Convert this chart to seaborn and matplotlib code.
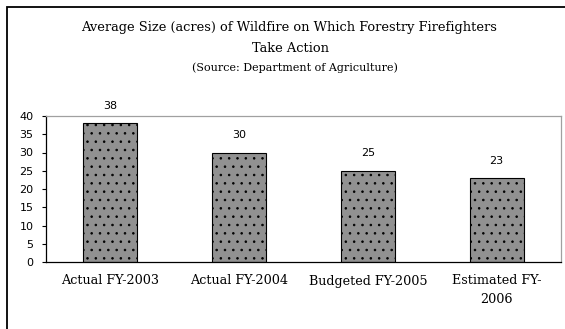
import matplotlib
matplotlib.use("Agg")
import matplotlib.pyplot as plt
import seaborn as sns
import pandas as pd
from matplotlib.patches import Rectangle

# Chart data
categories = ["Actual FY-2003", "Actual FY-2004", "Budgeted FY-2005", "Estimated FY-\n2006"]
avg_acres = [38, 30, 25, 23]
y_ticks = [0, 5, 10, 15, 20, 25, 30, 35, 40]

df = pd.DataFrame({"category": categories, "acres": avg_acres})

sns.set_style("white")
plt.rcParams["hatch.linewidth"] = 0.6
plt.rcParams["text.color"] = "black"
plt.rcParams["xtick.labelcolor"] = "black"
plt.rcParams["ytick.labelcolor"] = "black"

fig = plt.figure(figsize=(5.65, 3.29), dpi=100)
ax = fig.add_axes([46 / 565, 1 - 262 / 329, 515 / 565, 146 / 329])

sns.barplot(data=df, x="category", y="acres", ax=ax, color="#919191",
            width=0.42, saturation=1)

for bar in ax.patches:
    bar.set_hatch("..")
    bar.set_edgecolor("black")
    bar.set_linewidth(0.8)

# value labels
for bar, v in zip(ax.patches, avg_acres):
    ax.annotate(f"{v}", (bar.get_x() + bar.get_width() / 2, bar.get_height()),
                xytext=(0, 9), textcoords="offset points", ha="center", va="bottom",
                fontsize=8, family="DejaVu Sans", color="black")

ax.set_xlim(-0.5, len(categories) - 0.5)
ax.set_ylim(0, 40)
ax.set_yticks(y_ticks)
ax.set_yticklabels([str(t) for t in y_ticks], fontsize=8, family="DejaVu Sans", color="black")
ax.set_xticks(range(len(categories)))
ax.set_xticklabels(categories, fontsize=9.2, family="DejaVu Serif", linespacing=1.55,
                   color="black")
ax.set_xticks([i - 0.5 for i in range(len(categories) + 1)], minor=True)
ax.tick_params(axis="x", which="major", length=0, pad=9)
ax.tick_params(axis="x", which="minor", length=4, width=0.8, color="black", direction="out")
ax.tick_params(axis="y", length=3, width=0.8, color="black", direction="out", pad=6, left=True)
ax.set_xlabel("")
ax.set_ylabel("")

for side in ["left", "bottom"]:
    ax.spines[side].set_color("black")
    ax.spines[side].set_linewidth(0.9)
for side in ["top", "right"]:
    ax.spines[side].set_color("#a0a0a0")
    ax.spines[side].set_linewidth(0.9)

# titles
fig.text(289 / 565, 1 - 28 / 329, "Average Size (acres) of Wildfire on Which Forestry Firefighters",
         ha="center", va="center", fontsize=9.4, family="DejaVu Serif", color="black")
fig.text(290 / 565, 1 - 49 / 329, "Take Action", ha="center", va="center",
         fontsize=9.4, family="DejaVu Serif", color="black")
fig.text(295 / 565, 1 - 68 / 329, "(Source: Department of Agriculture)", ha="center", va="center",
         fontsize=8.0, family="DejaVu Serif", color="black")

# outer chart frame
fig.patches.append(Rectangle((7 / 565, -0.05), 1.1, 1 - 7 / 329 + 0.05,
                             transform=fig.transFigure, fill=False,
                             edgecolor="black", linewidth=1.3))

fig.savefig("out.png", dpi=100)
